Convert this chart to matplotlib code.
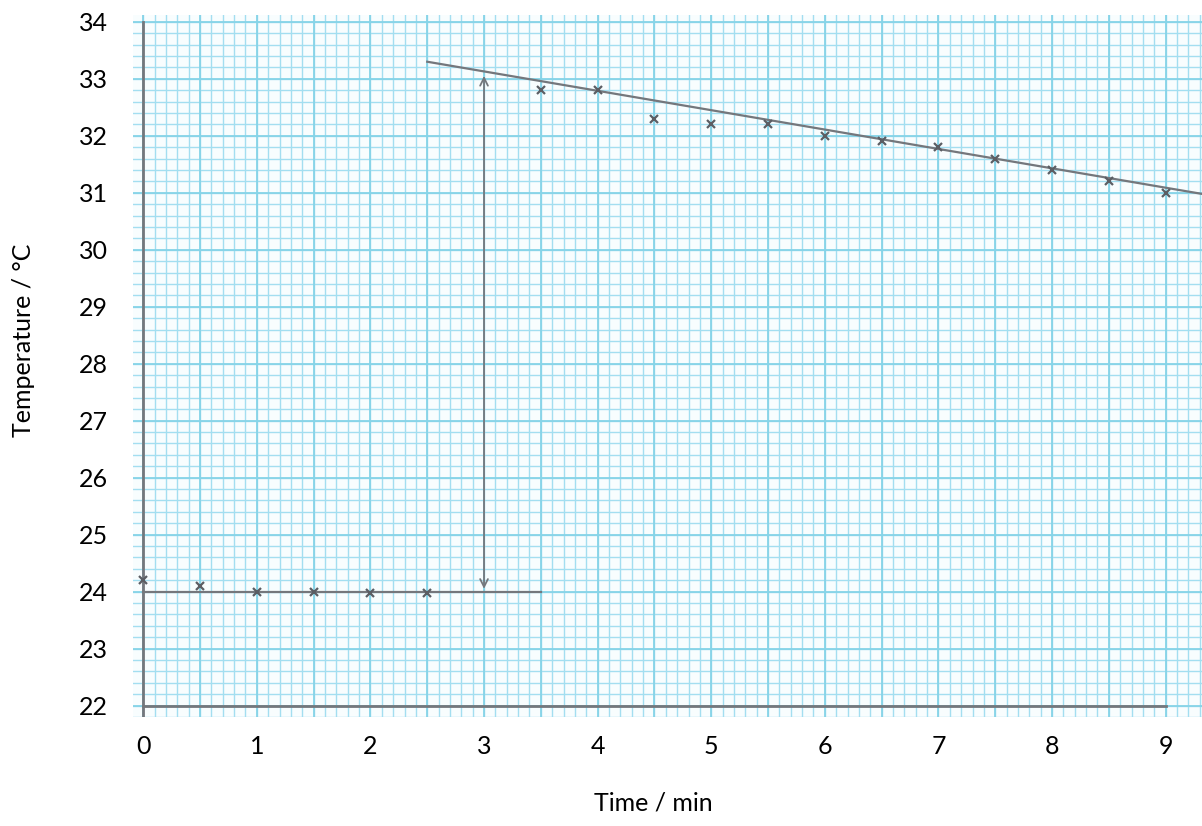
import matplotlib.pyplot as plt
import numpy as np

# Readings before mixing (time / min, temperature / °C)
t_before = [0, 0.5, 1, 1.5, 2, 2.5]
temp_before = [24.2, 24.1, 24.0, 24.0, 23.98, 23.98]

# Readings after mixing
t_after = [3.5, 4, 4.5, 5, 5.5, 6, 6.5, 7, 7.5, 8, 8.5, 9]
temp_after = [32.8, 32.8, 32.3, 32.2, 32.2, 32.0, 31.9, 31.8, 31.6, 31.4, 31.2, 31.0]

# Hand-drawn lines
base_x = [0, 3.5]
base_y = [24.0, 24.0]
fit_x = [2.5, 9.35]
fit_y = [33.3, 30.97]
jump_x = 3
jump_lo, jump_hi = 24.0, 33.1

x_ticks = list(range(0, 10))
y_ticks = list(range(22, 35))

plt.rcParams['font.family'] = ['Lato', 'DejaVu Sans']

fig = plt.figure(figsize=(12.02, 8.26), dpi=100)
ax = fig.add_axes([133 / 1202, 109 / 826, 1069 / 1202, 702 / 826])
ax.set_xlim(-0.09, 9.32)
ax.set_ylim(21.8, 34.12)
ax.set_facecolor('#f8fdfe')

# graph paper
paper_minor = '#a3def0'
paper_major = '#86d4e8'
for x in np.arange(-0.0, 9.4, 0.1):
    ax.axvline(x, color=paper_minor, lw=1.0, zorder=0)
for y in np.arange(21.8, 34.2, 0.2):
    ax.axhline(y, color=paper_minor, lw=1.0, zorder=0)
for x in np.arange(0, 9.4, 0.5):
    ax.axvline(x, color=paper_major, lw=1.3, zorder=0)
for y in np.arange(22, 34.2, 1):
    ax.axhline(y, color=paper_major, lw=1.3, zorder=0)

pencil = '#74777c'
# pencil axes
ax.plot([0, 0], [21.8, 34.0], color=pencil, lw=2, zorder=2)
ax.plot([0, 9], [22, 22], color=pencil, lw=2, zorder=2)

ax.plot(base_x, base_y, color=pencil, lw=1.6, zorder=3)
ax.plot(fit_x, fit_y, color=pencil, lw=1.6, zorder=3)
ax.annotate('', xy=(jump_x, jump_hi), xytext=(jump_x, jump_lo),
            arrowprops=dict(arrowstyle='<->', color=pencil, lw=1.3,
                            mutation_scale=14), zorder=3)

ax.plot(t_before, temp_before, 'x', color='#5b5e64', ms=6, mew=1.6, zorder=4)
ax.plot(t_after, temp_after, 'x', color='#5b5e64', ms=6, mew=1.6, zorder=4)

for s in ax.spines.values():
    s.set_visible(False)
ax.set_xticks(x_ticks)
ax.set_yticks(y_ticks)
ax.tick_params(length=0, labelsize=18)
ax.tick_params(axis='x', pad=13)
ax.tick_params(axis='y', pad=18)

fig.text(24 / 1202, 1 - 340 / 826, 'Temperature / °C', rotation=90,
         ha='center', va='center', fontsize=18)
fig.text(653 / 1202, 1 - 803 / 826, 'Time / min', ha='center', va='center',
         fontsize=18)

fig.savefig('out.png', dpi=100)
